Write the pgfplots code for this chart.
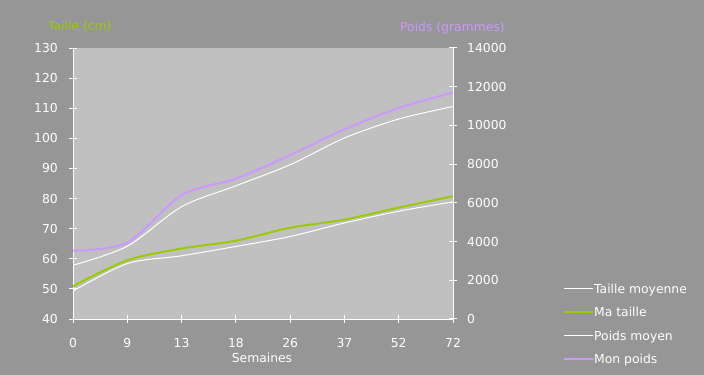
\documentclass[border=0pt]{standalone}
\usepackage{pgfplots}
\pgfplotsset{compat=1.18}
\usepackage{fontspec}
\setmainfont{DejaVu Sans}
\definecolor{bg}{HTML}{969696}
\definecolor{plotbg}{HTML}{C0C0C0}
\definecolor{mygreen}{HTML}{99CC00}
\definecolor{mypurple}{HTML}{CC99FF}
\newcommand{\chartfont}{\fontsize{12.4}{14}\selectfont}
\begin{document}
\begin{tikzpicture}
\fill[bg] (0,0) rectangle (704bp,375bp);
\useasboundingbox (0,0) rectangle (704bp,375bp);
\pgfplotsset{
  common/.style={
    at={(73bp,56bp)}, anchor=south west, scale only axis,
    width=380bp, height=271bp,
    xmin=0, xmax=7,
    axis line style={white, line width=1bp, -},
    tick style={white, line width=1bp},
    tick align=center, major tick length=8bp,
    ticklabel style={text=white, font=\chartfont, inner sep=0pt},
    /pgf/number format/assume math mode=true,
    /pgf/number format/1000 sep={},
    scaled y ticks=false,
  }
}
\begin{axis}[common,
  ymin=40, ymax=130,
  xtick={0,...,7}, xticklabels={0,9,13,18,26,37,52,72},
  ytick={40,50,...,130},
  axis x line*=bottom, axis y line*=left,
  axis background/.style={fill=plotbg},
  yticklabel style={xshift=-11bp},
  xticklabel style={yshift=-15bp},
  legend style={at={(axis description cs:1.2895,-0.0185)}, anchor=west,
    draw=none, fill=none, inner sep=0pt, row sep=0pt,
    font=\chartfont, text=white,
    nodes={inner sep=0pt, minimum height=23.5bp, text height=9bp, text depth=0pt}},
  legend cell align=left,
  legend image code/.code={\draw[#1] (0bp,0bp) -- (29bp,0bp);},
]
\addplot[white, line width=1bp, smooth] coordinates {
(0,49.3) (1,58.4) (2,61.0) (3,64.1) (4,67.4) (5,71.9) (6,75.8) (7,78.9)};
\addlegendentry{Taille moyenne}
\addplot[mygreen, line width=2bp, smooth] coordinates {
(0,50.9) (1,59.5) (2,63.4) (3,66.0) (4,70.3) (5,73.0) (6,77.0) (7,80.8)};
\addlegendentry{Ma taille}
\addlegendimage{white, line width=1bp}
\addlegendentry{Poids moyen}
\addlegendimage{mypurple, line width=2bp}
\addlegendentry{Mon poids}
\end{axis}
\begin{axis}[common,
  ymin=0, ymax=14000,
  ytick={0,2000,...,14000},
  axis y line*=right, axis x line=none,
  yticklabel style={xshift=10bp},
]
\addplot[white, line width=1bp, smooth] coordinates {
(0,2780) (1,3760) (2,5800) (3,6880) (4,7970) (5,9350) (6,10330) (7,10980)};
\addplot[mypurple, line width=2bp, smooth] coordinates {
(0,3530) (1,3950) (2,6400) (3,7250) (4,8470) (5,9800) (6,10900) (7,11700)};
\end{axis}
\node[text=mygreen, anchor=west, inner sep=0pt, font=\chartfont] at (48bp,348bp) {Taille (cm)};
\node[text=mypurple, anchor=west, inner sep=0pt, font=\chartfont] at (400bp,347bp) {Poids (grammes)};
\node[text=white, inner sep=0pt, font=\chartfont] at (262bp,17bp) {Semaines};
\end{tikzpicture}
\end{document}
